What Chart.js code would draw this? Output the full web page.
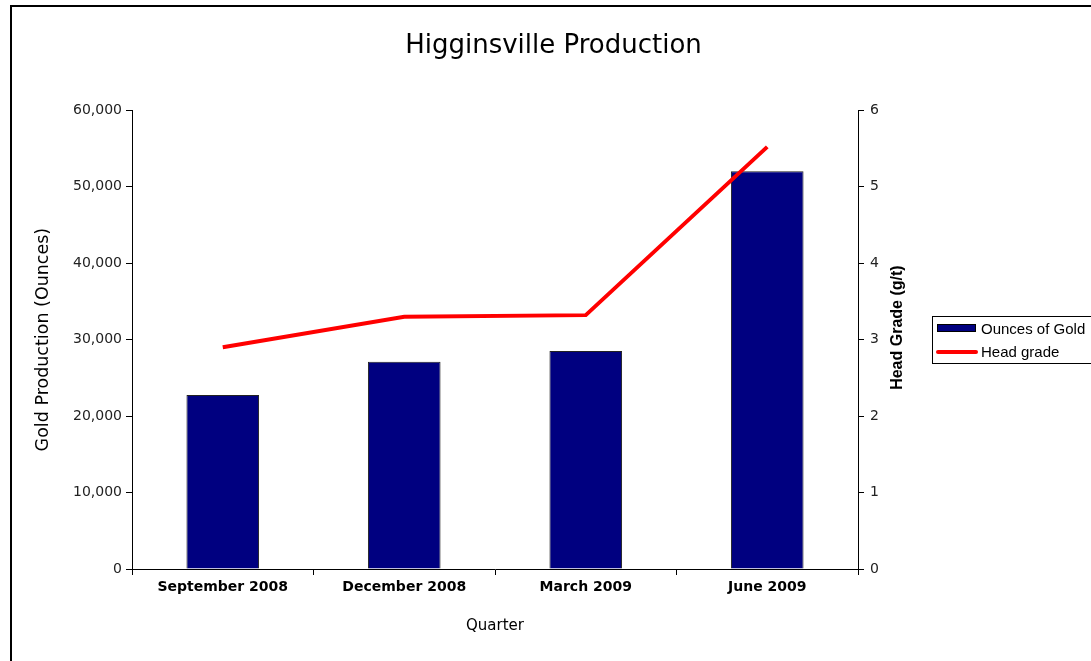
<!DOCTYPE html>
<html>
<head>
<meta charset="utf-8">
<script src="https://cdn.jsdelivr.net/npm/chart.js@4.4.1/dist/chart.umd.min.js"></script>
<style>
  body { margin: 0; overflow: hidden; background: #fff; }
  #wrap { position: absolute; left: 0; top: 0; width: 1091px; height: 661px; }
  #frame { position: absolute; left: 10px; top: 5px; width: 1100px; height: 700px; border: 2px solid #000; pointer-events: none; }
</style>
</head>
<body>
<div id="wrap"><canvas id="myChart"></canvas></div>
<div id="frame"></div>
<script>
const quarters = ['September 2008', 'December 2008', 'March 2009', 'June 2009']
const ouncesOfGold = [22750, 27100, 28500, 52000]
const headGrade = [2.9, 3.3, 3.32, 5.52]
const goldTicks = [0, 10000, 20000, 30000, 40000, 50000, 60000]
const gradeAxisTitle = 'Head Grade (g/t)'

const ctx = document.getElementById('myChart')

// legend drawn as a bordered box like the original, plus the right axis title (reads bottom to top)
const extras = {
  id: 'extras',
  afterDraw(chart) {
    const c = chart.ctx
    const y2 = chart.scales.y2
    c.save()
    c.fillStyle = '#000'
    c.font = 'bold 16px "Liberation Sans", Arial, sans-serif'
    c.textAlign = 'center'
    c.textBaseline = 'middle'
    c.translate(898, (y2.top + y2.bottom) / 2 - 12)
    c.rotate(-Math.PI / 2)
    c.fillText(gradeAxisTitle, 0, 0)
    c.restore()

    c.save()
    c.strokeStyle = '#000'
    c.lineWidth = 1
    c.strokeRect(932.5, 316.5, 170, 47)
    c.font = '15px "Liberation Sans", Arial, sans-serif'
    c.textBaseline = 'middle'
    // bar entry
    c.fillStyle = chart.data.datasets[0].backgroundColor
    c.fillRect(937, 324, 38, 8)
    c.strokeRect(937.5, 324.5, 38, 7)
    c.fillStyle = '#000'
    c.fillText(chart.data.datasets[0].label, 981, 330)
    // line entry
    c.strokeStyle = chart.data.datasets[1].borderColor
    c.lineWidth = 4
    c.lineCap = 'round'
    c.beginPath()
    c.moveTo(938, 352)
    c.lineTo(976, 352)
    c.stroke()
    c.fillText(chart.data.datasets[1].label, 981, 353)
    c.restore()
  }
}

const data = {
  labels: quarters,
  datasets: [{
    type: 'bar',
    label: 'Ounces of Gold',
    data: ouncesOfGold,
    backgroundColor: '#000080',
    borderColor: '#222',
    borderWidth: 1,
    barPercentage: 0.4,
    categoryPercentage: 1,
    yAxisID: 'y',
    order: 2
  }, {
    type: 'line',
    label: 'Head grade',
    data: headGrade,
    borderColor: '#FF0000',
    backgroundColor: 'transparent',
    borderWidth: 4,
    pointRadius: 0,
    tension: 0,
    yAxisID: 'y2',
    order: 1
  }]
}

const config = {
  data: data,
  plugins: [extras],
  options: {
    responsive: false,
    animation: false,
    layout: { padding: { left: 16, right: 0, top: 0, bottom: 12 } },
    plugins: {
      legend: { display: false },
      tooltip: { enabled: false },
      title: {
        display: true,
        text: 'Higginsville Production',
        color: '#000',
        font: { family: 'Tahoma, "DejaVu Sans", sans-serif', size: 26, weight: 'normal' },
        padding: { top: 31, bottom: 48 }
      }
    },
    scales: {
      x: {
        grid: { offset: true, drawOnChartArea: false, color: '#000', tickLength: 6, tickColor: '#000' },
        border: { color: '#000', width: 1 },
        ticks: { color: '#000', font: { family: '"DejaVu Sans", Verdana, sans-serif', size: 14, weight: 'bold' }, padding: 4 },
        title: { display: true, text: 'Quarter', color: '#000', font: { family: '"DejaVu Sans", Verdana, sans-serif', size: 15 }, padding: { top: 8, bottom: 14 } },
        afterFit(scale) { scale.height = 80 }
      },
      y: {
        position: 'left',
        min: 0,
        max: 60000,
        afterBuildTicks(scale) { scale.ticks = goldTicks.map(v => ({ value: v })) },
        grid: { drawOnChartArea: false, color: '#000', tickLength: 6, tickColor: '#000' },
        border: { color: '#000', width: 1 },
        ticks: {
          color: '#222',
          font: { family: '"DejaVu Sans", Tahoma, sans-serif', size: 14 },
          padding: 4,
          callback: v => v.toLocaleString('en-US')
        },
        title: { display: true, text: 'Gold Production (Ounces)', color: '#000', font: { family: '"DejaVu Sans", Tahoma, sans-serif', size: 17.5 }, padding: { top: 17, bottom: 0 } },
        afterFit(scale) { scale.width = 116 }
      },
      y2: {
        position: 'right',
        min: 0,
        max: 6,
        grid: { drawOnChartArea: false, color: '#000', tickLength: 6, tickColor: '#000' },
        border: { color: '#000', width: 1 },
        ticks: { stepSize: 1, color: '#222', font: { family: '"DejaVu Sans", Tahoma, sans-serif', size: 14 }, padding: 6 },
        afterFit(scale) { scale.width = 233 }
      }
    }
  }
}

ctx.width = 1091
ctx.height = 661
const myChart = new Chart(ctx, config)
</script>
</body>
</html>
